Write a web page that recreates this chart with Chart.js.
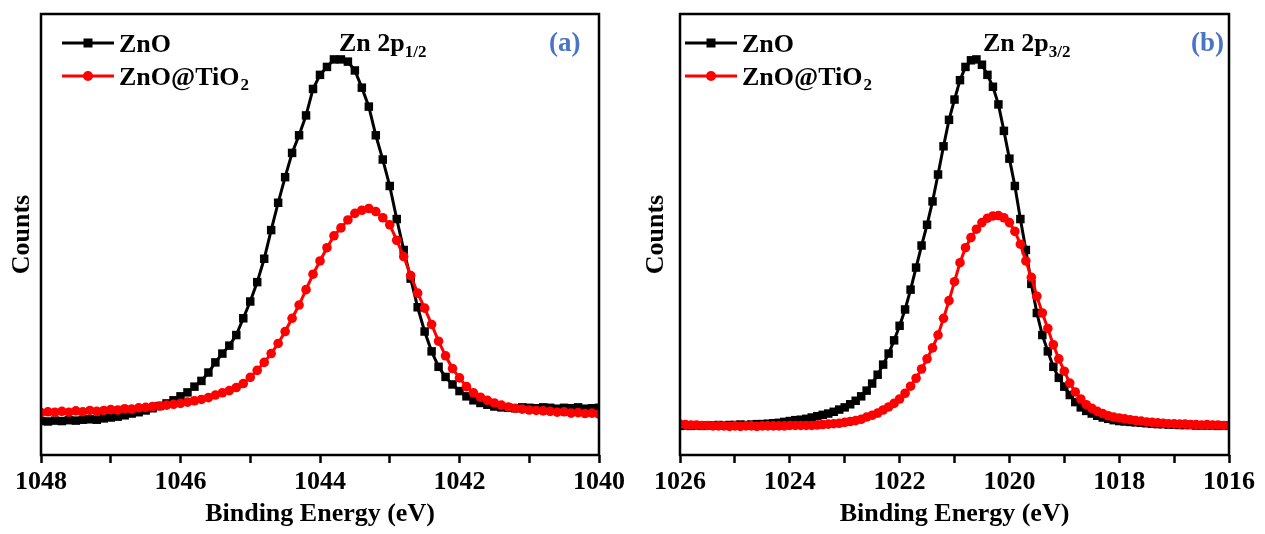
<!DOCTYPE html>
<html>
<head>
<meta charset="utf-8">
<script src="https://cdn.jsdelivr.net/npm/chart.js@4.4.1/dist/chart.umd.min.js"></script>
<style>
  body { margin: 0; background: #fff; }
  #wrap { position: relative; width: 1265px; height: 534px; background: #fff; }
  .panel { position: absolute; top: 0; }
</style>
</head>
<body>
<div id="wrap">
  <canvas id="p12" class="panel" width="632" height="534" style="left:0"></canvas>
  <canvas id="p32" class="panel" width="625" height="534" style="left:640px"></canvas>
</div>
<script>
// (a) Zn 2p1/2, binding energy (eV)
const energyA = [
  1048.0,1047.9,1047.8,1047.7,1047.6,1047.5,1047.4,1047.3,1047.2,1047.1,
  1047.0,1046.9,1046.8,1046.7,1046.6,1046.5,1046.4,1046.3,1046.2,1046.1,
  1046.0,1045.9,1045.8,1045.7,1045.6,1045.5,1045.4,1045.3,1045.2,1045.1,
  1045.0,1044.9,1044.8,1044.7,1044.6,1044.5,1044.4,1044.3,1044.2,1044.1,
  1044.0,1043.9,1043.8,1043.7,1043.6,1043.5,1043.4,1043.3,1043.2,1043.1,
  1043.0,1042.9,1042.8,1042.7,1042.6,1042.5,1042.4,1042.3,1042.2,1042.1,
  1042.0,1041.9,1041.8,1041.7,1041.6,1041.5,1041.4,1041.3,1041.2,1041.1,
  1041.0,1040.9,1040.8,1040.7,1040.6,1040.5,1040.4,1040.3,1040.2,1040.1,
  1040.0
];
const znoA = [
  77,76,78,77,79,78,80,81,80,83,
  85,87,90,94,97,101,106,111,117,124,
  133,142,155,168,187,210,230,248,272,310,
  348,392,445,510,572,630,685,725,770,830,
  862,880,897,897,892,872,833,790,725,670,
  610,535,465,400,335,280,235,200,177,160,
  145,133,124,118,114,110,108,107,106,108,
  107,106,108,107,105,107,106,108,105,106,
  107
];
const znoTiA = [
  96,98,97,99,97,100,98,101,99,101,
  103,102,105,104,107,108,110,111,113,115,
  117,120,123,126,130,136,141,146,153,162,
  176,192,210,230,253,280,310,340,375,410,
  440,470,497,515,533,548,555,559,552,538,
  522,487,450,407,367,333,296,258,225,196,
  175,155,141,131,124,118,113,109,106,104,
  102,101,100,99,97,98,95,96,94,95,
  93
];

// (b) Zn 2p3/2, binding energy (eV)
const energyB = [
  1026.0,1025.9,1025.8,1025.7,1025.6,1025.5,1025.4,1025.3,1025.2,1025.1,
  1025.0,1024.9,1024.8,1024.7,1024.6,1024.5,1024.4,1024.3,1024.2,1024.1,
  1024.0,1023.9,1023.8,1023.7,1023.6,1023.5,1023.4,1023.3,1023.2,1023.1,
  1023.0,1022.9,1022.8,1022.7,1022.6,1022.5,1022.4,1022.3,1022.2,1022.1,
  1022.0,1021.9,1021.8,1021.7,1021.6,1021.5,1021.4,1021.3,1021.2,1021.1,
  1021.0,1020.9,1020.8,1020.7,1020.6,1020.5,1020.4,1020.3,1020.2,1020.1,
  1020.0,1019.9,1019.8,1019.7,1019.6,1019.5,1019.4,1019.3,1019.2,1019.1,
  1019.0,1018.9,1018.8,1018.7,1018.6,1018.5,1018.4,1018.3,1018.2,1018.1,
  1018.0,1017.9,1017.8,1017.7,1017.6,1017.5,1017.4,1017.3,1017.2,1017.1,
  1017.0,1016.9,1016.8,1016.7,1016.6,1016.5,1016.4,1016.3,1016.2,1016.1,
  1016.0
];
const znoB = [
  66,67,66,67,66,67,67,68,67,68,
  68,69,68,69,70,70,71,72,73,75,
  77,79,80,82,85,88,91,94,98,103,
  108,115,123,133,146,162,182,205,230,260,
  293,330,375,425,475,522,575,636,700,760,
  806,850,880,895,897,885,862,835,795,735,
  672,610,535,465,388,322,272,235,200,175,
  155,136,120,108,100,94,89,85,82,79,
  77,76,75,74,73,72,71,70,70,69,
  69,68,68,68,67,67,67,67,66,67,
  66
];
const znoTiB = [
  70,69,68,68,67,67,66,66,66,65,
  66,65,66,66,65,66,66,66,66,66,
  67,67,67,67,67,68,69,70,71,72,
  74,76,78,81,86,90,95,102,109,117,
  127,140,156,174,195,218,243,272,310,350,
  393,436,470,493,512,527,537,542,543,538,
  527,507,478,440,403,360,322,287,250,218,
  190,163,143,127,114,106,99,94,89,86,
  84,82,80,78,77,75,74,73,72,71,
  71,70,70,69,69,68,69,68,68,67,
  67
];

const seriesNames = ["ZnO", "ZnO@TiO"]; // subscript 2 drawn in legend
const FONT = "Liberation Serif";
Chart.defaults.font.family = FONT;
Chart.defaults.color = "#000";

// frame, legend and peak labels
const frameAndLabels = {
  id: "frameAndLabels",
  afterDraw(chart, args, o) {
    const ctx = chart.ctx;
    const a = chart.chartArea;
    ctx.save();
    ctx.strokeStyle = "#000";
    ctx.lineWidth = 2.5;
    ctx.strokeRect(a.left, a.top, a.right - a.left, a.bottom - a.top);

    // legend
    const rows = [
      { color: "#000", style: "rect", y: 43, text: seriesNames[0], sub: "" },
      { color: "#ff0000", style: "circle", y: 76, text: seriesNames[1], sub: "2" },
    ];
    rows.forEach((r) => {
      ctx.strokeStyle = r.color;
      ctx.fillStyle = r.color;
      ctx.lineWidth = 3;
      ctx.beginPath();
      ctx.moveTo(o.legendX, r.y);
      ctx.lineTo(o.legendX + 52, r.y);
      ctx.stroke();
      const cx = o.legendX + 26;
      if (r.style === "rect") {
        ctx.fillRect(cx - 4.5, r.y - 4.5, 9, 9);
      } else {
        ctx.beginPath();
        ctx.arc(cx, r.y, 5, 0, Math.PI * 2);
        ctx.fill();
      }
      ctx.fillStyle = "#000";
      ctx.font = "bold 26px " + FONT;
      ctx.textBaseline = "alphabetic";
      ctx.fillText(r.text, o.legendX + 57, r.y + 9);
      if (r.sub) {
        const w = ctx.measureText(r.text).width;
        ctx.font = "bold 17px " + FONT;
        ctx.fillText(r.sub, o.legendX + 58 + w, r.y + 14);
      }
    });

    // peak label
    ctx.fillStyle = "#000";
    ctx.font = "bold 26px " + FONT;
    ctx.fillText("Zn 2p", o.peakX, 51);
    const pw = ctx.measureText("Zn 2p").width;
    ctx.font = "bold 17px " + FONT;
    ctx.fillText(o.peakSub, o.peakX + pw, 57);

    // panel tag
    ctx.fillStyle = "#4a74c4";
    ctx.font = "bold 27px " + FONT;
    ctx.fillText(o.tag, o.tagX, 51);
    ctx.restore();
  },
};

function makeChart(id, energy, zno, znoTi, xmin, xmax, yWidth, padRight, titlePad, labels) {
  const pts = (vals) => energy.map((e, i) => ({ x: e, y: vals[i] }));
  return new Chart(document.getElementById(id), {
    type: "line",
    data: {
      datasets: [
        {
          label: seriesNames[0],
          data: pts(zno),
          borderColor: "#000",
          backgroundColor: "#000",
          borderWidth: 3,
          pointStyle: "rect",
          pointRadius: 6,
          pointBorderWidth: 0,
          order: 1,
        },
        {
          label: seriesNames[1] + "2",
          data: pts(znoTi),
          borderColor: "#ff0000",
          backgroundColor: "#ff0000",
          borderWidth: 3,
          pointStyle: "circle",
          pointRadius: 4.8,
          pointBorderWidth: 0,
          order: 0,
        },
      ],
    },
    options: {
      responsive: false,
      animation: false,
      events: [],
      layout: { padding: { left: 0, right: padRight, top: 14, bottom: 0 } },
      plugins: {
        legend: { display: false },
        tooltip: { enabled: false },
        frameAndLabels: labels,
      },
      scales: {
        x: {
          type: "linear",
          reverse: true,
          min: xmin,
          max: xmax,
          border: { display: false },
          grid: {
            display: true,
            drawOnChartArea: false,
            drawTicks: true,
            tickLength: 8,
            tickWidth: 2.5,
            tickColor: "#000",
          },
          ticks: {
            stepSize: 1,
            autoSkip: false,
            maxRotation: 0,
            padding: 4,
            color: "#000",
            font: { size: 26, weight: "bold" },
            callback: (v) => (v % 2 === 0 ? String(v) : ""),
          },
          title: {
            display: true,
            text: "Binding Energy (eV)",
            color: "#000",
            font: { size: 26, weight: "bold" },
            padding: { top: 0, bottom: 4 },
          },
          afterFit: (s) => { s.height = 79; },
        },
        y: {
          min: 0,
          max: 1000,
          border: { display: false },
          grid: { display: false },
          ticks: { display: false },
          title: {
            display: true,
            text: "Counts",
            color: "#000",
            font: { size: 26, weight: "bold" },
            padding: { top: titlePad, bottom: 0 },
          },
          afterFit: (s) => { s.width = yWidth; },
        },
      },
    },
    plugins: [frameAndLabels],
  });
}

makeChart("p12", energyA, znoA, znoTiA, 1040, 1048, 41, 33, 7,
  { legendX: 62, peakX: 339, peakSub: "1/2", tag: "(a)", tagX: 549 });
makeChart("p32", energyB, znoB, znoTiB, 1016, 1026, 40, 36, 1,
  { legendX: 45, peakX: 343, peakSub: "3/2", tag: "(b)", tagX: 551 });
</script>
</body>
</html>
